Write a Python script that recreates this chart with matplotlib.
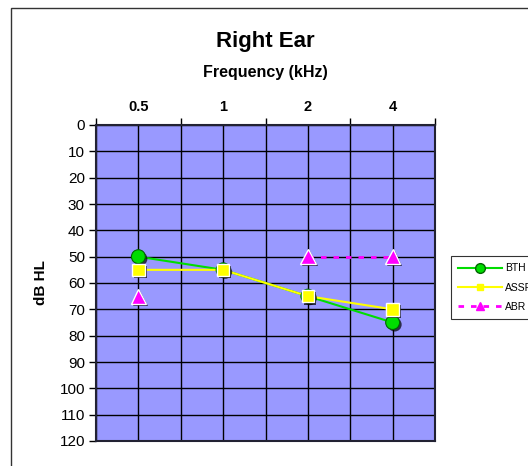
import numpy as np
import matplotlib
matplotlib.use('Agg')
import matplotlib.pyplot as plt
import matplotlib.patheffects as pe
from matplotlib.lines import Line2D
from matplotlib.patches import Rectangle

plt.rcParams['font.family'] = ['Liberation Sans', 'DejaVu Sans']

freqs = ['0.5', '1', '2', '4']
bth = [50, 55, 65, 75]
assr = [55, 55, 65, 70]
abr = [65, np.nan, 50, 50]
yticks = list(range(0, 121, 10))

fig = plt.figure(figsize=(5.28, 4.66), dpi=100)
fig.patches.append(Rectangle((11 / 528, -0.1), 2, 1 - 8 / 466 + 0.1, transform=fig.transFigure,
                             fill=False, edgecolor='#333333', linewidth=1))
ax = fig.add_axes([96 / 528, 1 - 441 / 466, 339 / 528, 316 / 466])
ax.set_facecolor('#9999FF')

x = np.arange(len(freqs))
ax.set_xlim(-0.5, len(freqs) - 0.5)
ax.set_ylim(120, 0)

# grid at category edges and centres
for gx in np.arange(-0.5, len(freqs), 0.5):
    ax.axvline(gx, color='black', linewidth=1, zorder=1)
for gy in yticks:
    ax.axhline(gy, color='black', linewidth=1, zorder=1)

ax.plot(x, bth, color='#00DD00', linewidth=1.5, zorder=3)
ax.plot(x, assr, color='#FFFF00', linewidth=1.5, zorder=3)
ax.plot(x, abr, color='#FF00FF', linewidth=2, linestyle=(0, (2, 2.5)), zorder=3)

shadow = [pe.SimplePatchShadow(offset=(1.5, -1.5), shadow_rgbFace='black', alpha=0.7), pe.Normal()]
ax.plot(x, bth, linestyle='none', marker='o', markersize=10, markerfacecolor='#00DD00',
        markeredgecolor='#006600', markeredgewidth=0.8, zorder=4, path_effects=shadow)
ax.plot(x, assr, linestyle='none', marker='s', markersize=9, markerfacecolor='#FFFF00',
        markeredgecolor='white', markeredgewidth=1, zorder=5, path_effects=shadow)
ax.plot(x, abr, linestyle='none', marker='^', markersize=11, markerfacecolor='#FF00FF',
        markeredgecolor='white', markeredgewidth=1, zorder=5, path_effects=shadow)

ax.xaxis.tick_top()
ax.set_xticks(np.arange(-0.5, len(freqs), 1))
ax.set_xticklabels([])
ax.set_xticks(x, minor=True)
ax.set_xticklabels(freqs, minor=True, fontsize=10.5, fontweight='bold')
ax.tick_params(axis='x', which='major', direction='out', length=5, width=1)
ax.tick_params(axis='x', which='minor', length=0, pad=8)
ax.set_yticks(yticks)
ax.set_yticklabels([str(t) for t in yticks], fontsize=11)
ax.tick_params(axis='y', direction='out', length=5, width=1, pad=3)
for s in ax.spines.values():
    s.set_linewidth(1.5)
    s.set_color('#222233')

ax.set_ylabel('dB HL', fontsize=11, fontweight='bold', labelpad=8)
fig.text(ax.get_position().x0 + ax.get_position().width / 2, 1 - 72 / 466, 'Frequency (kHz)',
         ha='center', va='center', fontsize=11.5, fontweight='bold')
fig.text(ax.get_position().x0 + ax.get_position().width / 2, 1 - 42 / 466, 'Right Ear',
         ha='center', va='center', fontsize=16, fontweight='bold')

handles = [
    Line2D([], [], color='#00DD00', linewidth=1.5, marker='o', markersize=7,
           markerfacecolor='#00DD00', markeredgecolor='#006600'),
    Line2D([], [], color='#FFFF00', linewidth=1.5, marker='s', markersize=5,
           markerfacecolor='#FFFF00', markeredgecolor='#FFFF00'),
    Line2D([], [], color='#FF00FF', linewidth=2, linestyle=(0, (2, 2.5)), marker='^', markersize=6,
           markerfacecolor='#FF00FF', markeredgecolor='#FF00FF'),
]
leg = fig.legend(handles, ['BTH', 'ASSR', 'ABR'], loc='upper left',
                 bbox_to_anchor=(451 / 528, 1 - 256 / 466), fontsize=7.5, frameon=True,
                 fancybox=False, edgecolor='black', handlelength=4.2, handletextpad=0.3,
                 labelspacing=0.9, borderpad=0.7, borderaxespad=0)
leg.get_frame().set_linewidth(0.8)

fig.savefig('out.png', dpi=100)
